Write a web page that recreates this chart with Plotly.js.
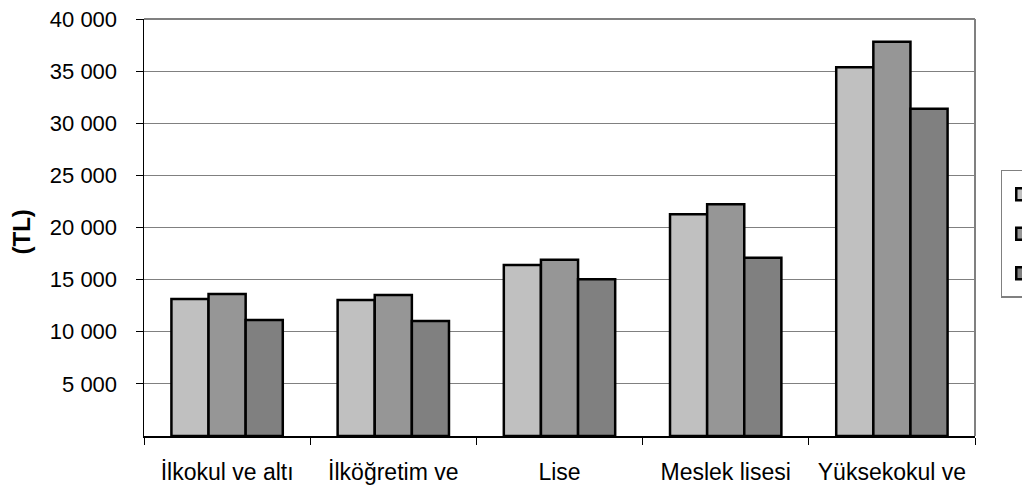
<!DOCTYPE html>
<html>
<head>
<meta charset="utf-8">
<script src="https://cdn.plot.ly/plotly-3.0.1.min.js"></script>
<style>html,body{margin:0;padding:0;background:#fff;}#chart{width:1022px;height:491px;}</style>
</head>
<body>
<div id="chart"></div>
<script>
const categories = ["İlkokul ve altı", "İlköğretim ve", "Lise", "Meslek lisesi", "Yüksekokul ve"];
const seriesNames = ["", "", ""];
const toplam = [13140, 13050, 16400, 21270, 35370];
const erkek = [13620, 13520, 16910, 22230, 37820];
const kadin = [11130, 11030, 15030, 17110, 31400];
const tickValues = [5000, 10000, 15000, 20000, 25000, 30000, 35000, 40000];
const tickLabels = ["5 000", "10 000", "15 000", "20 000", "25 000", "30 000", "35 000", "40 000"];
const yTitle = "(TL)";
const colors = ["#c0c0c0", "#969696", "#808080"];

const seriesValues = [toplam, erkek, kadin];
const traces = seriesValues.map((vals, i) => ({
  type: "bar",
  name: seriesNames[i],
  legendgroup: "g" + i,
  showlegend: true,
  x: categories,
  y: vals,
  marker: {color: colors[i], line: {color: "#000", width: 2.5}},
  hoverinfo: "none"
}));

const layout = {
  width: 1022, height: 491,
  margin: {l: 144, r: 47, t: 19, b: 55, autoexpand: false},
  paper_bgcolor: "#fff", plot_bgcolor: "#fff",
  font: {family: "Liberation Sans, Arial, sans-serif", color: "#000", size: 22},
  barmode: "group", bargap: 0.33, bargroupgap: 0,
  showlegend: true,
  legend: {x: 1.031, xanchor: "left", y: 0.638, yanchor: "top",
           bordercolor: "#808080", borderwidth: 1.5, bgcolor: "#fff",
           font: {size: 25}, tracegroupgap: 4, traceorder: "grouped",
           entrywidth: 80, entrywidthmode: "pixels"},
  xaxis: {
    type: "category", tickson: "boundaries", ticks: "outside", ticklen: 7,
    tickcolor: "#000", tickwidth: 1, showline: true, linecolor: "#000", linewidth: 1.5,
    showgrid: false, tickfont: {size: 23}, ticklabelstandoff: 15, automargin: false, fixedrange: true
  },
  yaxis: {
    range: [0, 40000], tickvals: tickValues, ticktext: tickLabels,
    ticks: "outside", ticklen: 7, tickcolor: "#000", tickwidth: 1,
    showline: true, linecolor: "#000", linewidth: 1.5,
    showgrid: true, gridcolor: "#808080", gridwidth: 1, zeroline: false,
    tickfont: {size: 22}, ticklabelstandoff: 14, automargin: false, fixedrange: true
  },
  annotations: [
    {text: "<b>" + yTitle + "</b>", xref: "paper", yref: "paper", x: -0.147, y: 0.49,
     xanchor: "center", yanchor: "middle", textangle: -90, showarrow: false,
     font: {size: 24, color: "#000"}}
  ],
  shapes: [
    {type: "line", xref: "paper", yref: "paper", x0: 0, x1: 1, y0: 1, y1: 1, line: {color: "#808080", width: 2}},
    {type: "line", xref: "paper", yref: "paper", x0: 1, x1: 1, y0: 0, y1: 1, line: {color: "#808080", width: 2}}
  ]
};

Plotly.newPlot("chart", traces, layout, {staticPlot: true, displayModeBar: false});
</script>
</body>
</html>
